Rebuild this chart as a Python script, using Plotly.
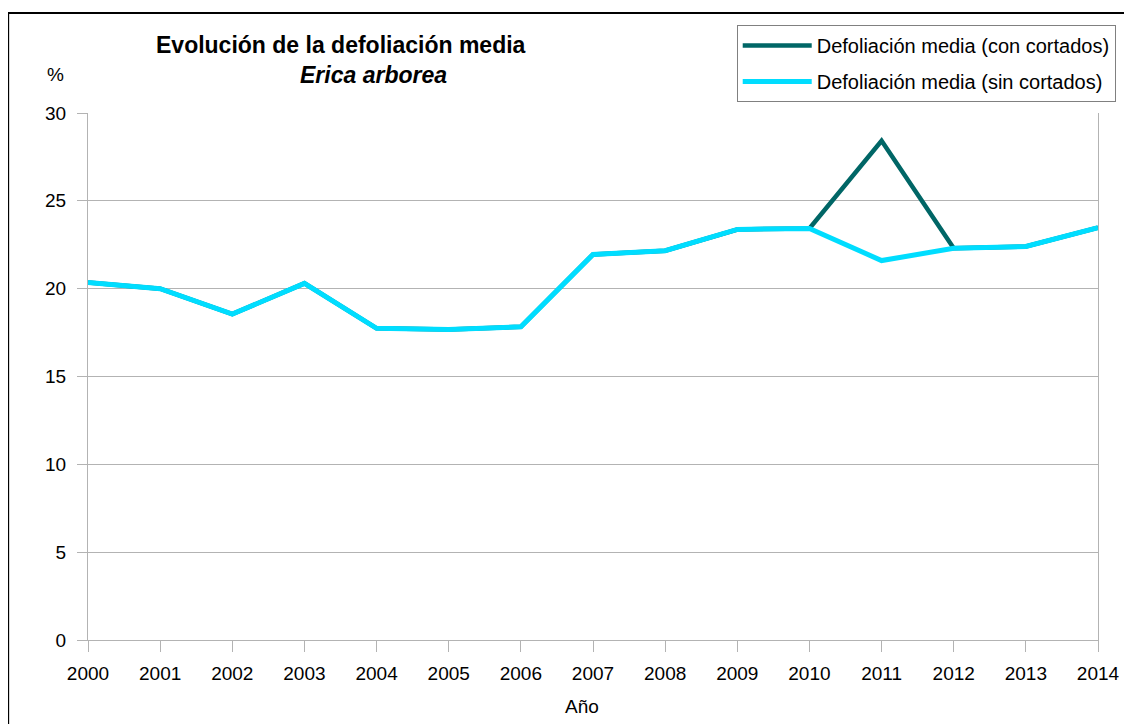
import plotly.graph_objects as go

years = list(range(2000, 2015))
con_cortados = [20.35, 20.0, 18.55, 20.3, 17.74, 17.68, 17.83, 21.95, 22.16, 23.37, 23.43, 28.42, 22.3, 22.4, 23.47]
sin_cortados = [20.35, 20.0, 18.55, 20.3, 17.74, 17.68, 17.83, 21.95, 22.16, 23.37, 23.43, 21.6, 22.3, 22.4, 23.47]
y_ticks = [0, 5, 10, 15, 20, 25, 30]

# page body has an 8px margin, so the figure is drawn from (8, 8)
OFF = 8
W, H = 1132 - OFF, 724 - OFF
L, T = 88 - OFF, 113 - OFF
R = W - (1100 - OFF)
B = H - (640 - OFF)
PW, PH = W - L - R, H - T - B


def px(x):
    return (x - OFF - L) / PW


def py(y):
    return (H - B - (y - OFF)) / PH


FONT = "Liberation Sans, Arial, sans-serif"

fig = go.Figure()
fig.add_trace(go.Scatter(
    x=years, y=con_cortados, mode="lines", name="Defoliación media (con cortados)",
    line=dict(color="#006666", width=4.5), legendgroup="a"))
fig.add_trace(go.Scatter(
    x=years, y=sin_cortados, mode="lines", name="Defoliación media (sin cortados)",
    line=dict(color="#00DDFF", width=5), legendgroup="b"))

fig.update_layout(
    width=W, height=H,
    margin=dict(l=L, r=R, t=T, b=B),
    paper_bgcolor="white", plot_bgcolor="white",
    font=dict(family=FONT, size=19, color="black"),
    showlegend=True,
    legend=dict(
        x=px(738), y=py(25), xanchor="left", yanchor="top",
        bordercolor="#808080", borderwidth=1, bgcolor="white",
        font=dict(size=20), traceorder="grouped", tracegroupgap=7,
        itemwidth=69,
    ),
    xaxis=dict(
        range=[2000, 2014], tickmode="array", tickvals=years,
        ticktext=[str(y) for y in years],
        showgrid=False, zeroline=False, showline=True, linecolor="#b3b3b3",
        ticks="outside", ticklen=11, tickcolor="#b3b3b3",
        tickfont=dict(size=19), ticklabelstandoff=5,
    ),
    yaxis=dict(
        range=[0, 30], tickmode="array", tickvals=y_ticks,
        showgrid=True, gridcolor="#b3b3b3", zeroline=False,
        showline=True, linecolor="#b3b3b3", mirror=True,
        ticks="outside", ticklen=10, tickcolor="#b3b3b3",
        tickfont=dict(size=19), ticklabelstandoff=7,
    ),
    shapes=[
        dict(type="rect", xref="paper", yref="paper",
             x0=px(8), y0=py(760), x1=px(1160), y1=py(13),
             line=dict(color="black", width=2), fillcolor="rgba(0,0,0,0)", layer="above"),
    ],
    annotations=[
        dict(text="<b>Evolución de la defoliación media</b>", xref="paper", yref="paper",
             x=px(341), y=py(45), xanchor="center", yanchor="middle", showarrow=False,
             font=dict(size=23)),
        dict(text="<b><i>Erica arborea</i></b>", xref="paper", yref="paper",
             x=px(374), y=py(75), xanchor="center", yanchor="middle", showarrow=False,
             font=dict(size=23)),
        dict(text="%", xref="paper", yref="paper",
             x=px(55), y=py(74), xanchor="center", yanchor="middle", showarrow=False,
             font=dict(size=19)),
        dict(text="Año", xref="paper", yref="paper",
             x=px(583), y=py(706), xanchor="center", yanchor="middle", showarrow=False,
             font=dict(size=19)),
    ],
)

fig.write_html("out.html")
